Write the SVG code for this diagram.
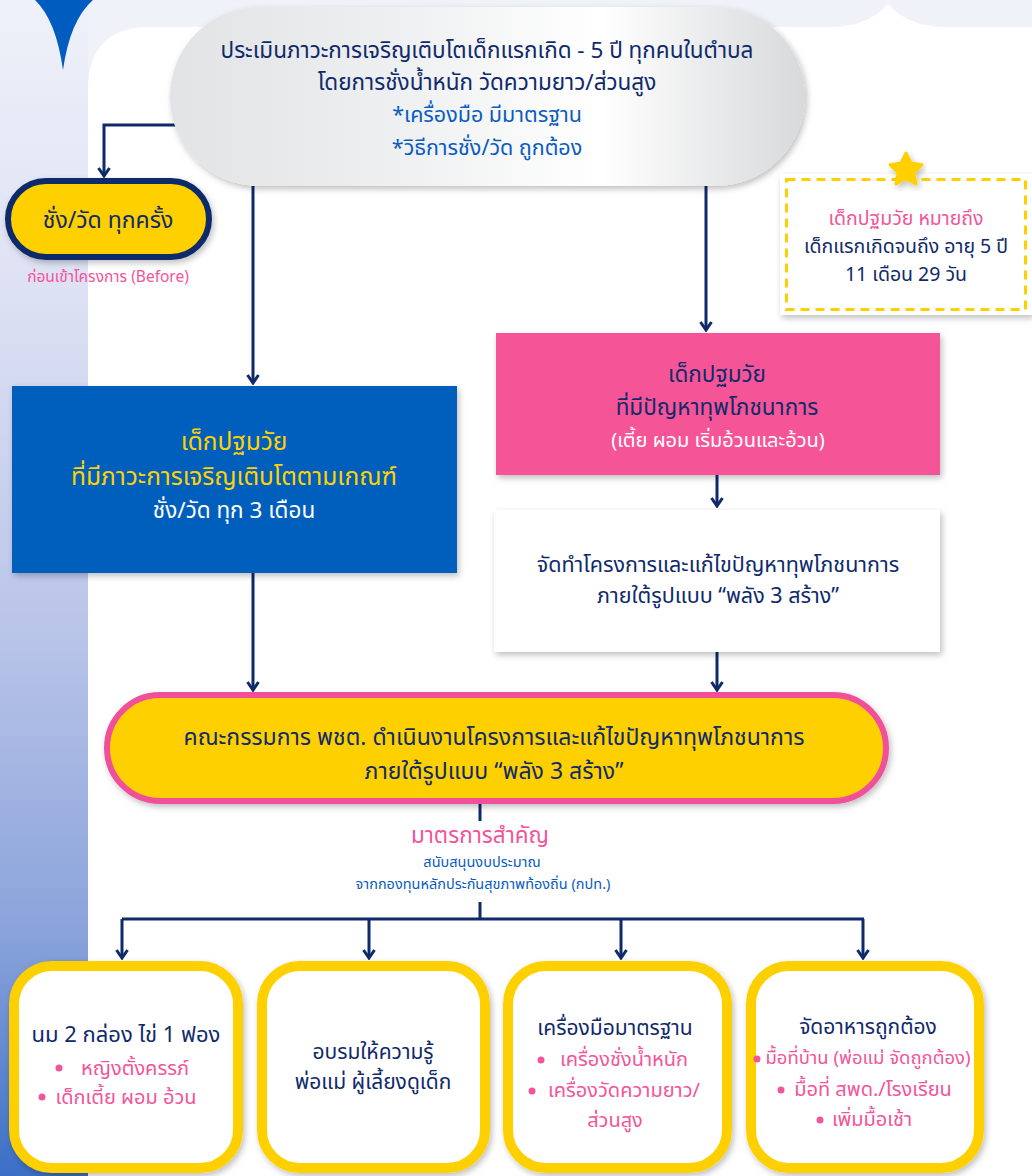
<svg xmlns="http://www.w3.org/2000/svg" width="1032" height="1176" viewBox="0 0 1032 1176">
<defs>
<style>
text{font-family:"Noto Sans Thai","Noto Sans Thai UI","Loma","Garuda","Sarabun","Kinnari","DejaVu Sans","Noto Sans",sans-serif;text-anchor:middle}
.navy{fill:#102a6b}
.blue{fill:#0b5cc0}
.pink{fill:#f2559a}
.yel{fill:#ffd200}
.wht{fill:#ffffff}
.conn{fill:none;stroke:#0f2a6a;stroke-width:3}
.bx{fill:#ffffff;stroke:#ffd000;stroke-width:10}
.bul{fill:#f2559a}
</style>
<linearGradient id="strip" x1="0" y1="0" x2="0" y2="1">
<stop offset="0" stop-color="#eff1f9"/>
<stop offset="0.25" stop-color="#dde1f3"/>
<stop offset="0.55" stop-color="#b7c3e8"/>
<stop offset="0.8" stop-color="#88a2da"/>
<stop offset="1" stop-color="#3a6fc6"/>
</linearGradient>
<linearGradient id="pillg" x1="0" y1="0" x2="1" y2="0">
<stop offset="0" stop-color="#e2e3e5"/>
<stop offset="0.35" stop-color="#eeeff0"/>
<stop offset="0.68" stop-color="#ffffff"/>
<stop offset="1" stop-color="#d8d9db"/>
</linearGradient>
<filter id="sh" x="-10%" y="-10%" width="120%" height="130%">
<feDropShadow dx="2" dy="3" stdDeviation="3" flood-color="#000" flood-opacity="0.25"/>
</filter>
<marker id="arr" viewBox="-1 -7 11 14" refX="8" refY="0" markerWidth="11" markerHeight="14" markerUnits="userSpaceOnUse" orient="auto">
<path d="M0,-5.5 L8,0 L0,5.5" fill="none" stroke="#0f2a6a" stroke-width="3" stroke-linejoin="miter"/>
</marker>
</defs>

<g id="background">
<rect x="0" y="0" width="1032" height="1176" fill="#f0f2f9"/>
<rect x="0" y="0" width="88" height="1176" fill="url(#strip)"/>
<path d="M88,1176 V90 Q88,27 150,27 H830 Q868,27 888,4 Q908,27 946,27 H1032 V1176 Z" fill="#ffffff"/>
<path d="M35,0 H93 Q70,20 63,70 Q56,20 35,0 Z" fill="#005cbf"/>
</g>

<g id="connectors">
<path class="conn" d="M176,125 H104 V176" marker-end="url(#arr)"/>
<path class="conn" d="M253,186 V383" marker-end="url(#arr)"/>
<path class="conn" d="M706,186 V330" marker-end="url(#arr)"/>
<path class="conn" d="M717,475 V506" marker-end="url(#arr)"/>
<path class="conn" d="M253,573 V690" marker-end="url(#arr)"/>
<path class="conn" d="M717,652 V690" marker-end="url(#arr)"/>
<path class="conn" d="M480,803 V821"/>
<path class="conn" d="M480,902 V919"/>
<path class="conn" d="M122,919 H864"/>
<path class="conn" d="M122,919 V958" marker-end="url(#arr)"/>
<path class="conn" d="M369,919 V958" marker-end="url(#arr)"/>
<path class="conn" d="M621,919 V958" marker-end="url(#arr)"/>
<path class="conn" d="M863,919 V958" marker-end="url(#arr)"/>
</g>

<g id="node-assess">
<rect x="170" y="7" width="635" height="179" rx="89.5" fill="url(#pillg)" filter="url(#sh)"/>
<text x="487" y="58" font-size="22.5" class="navy">ประเมินภาวะการเจริญเติบโตเด็กแรกเกิด - 5 ปี ทุกคนในตำบล</text>
<text x="487" y="90" font-size="22.5" class="navy">โดยการชั่งน้ำหนัก วัดความยาว/ส่วนสูง</text>
<text x="487" y="122" font-size="21.5" class="blue">*เครื่องมือ มีมาตรฐาน</text>
<text x="487" y="155" font-size="21.5" class="blue">*วิธีการชั่ง/วัด ถูกต้อง</text>
</g>

<g id="node-every-time">
<rect x="8" y="181" width="201" height="76" rx="38" fill="#ffd000" stroke="#0f2a6a" stroke-width="6" filter="url(#sh)"/>
<text x="108" y="228" font-size="23" class="navy">ชั่ง/วัด ทุกครั้ง</text>
<text x="108" y="282" font-size="15.5" class="pink">ก่อนเข้าโครงการ (Before)</text>
</g>

<g id="node-definition">
<rect x="780" y="174" width="252" height="141" fill="#ffffff" filter="url(#sh)"/>
<rect x="786.5" y="179.5" width="239" height="130" fill="none" stroke="#ffd000" stroke-width="3" stroke-dasharray="9,6"/>
<path d="M906,153 L911,163 L922,164.8 L914,172.7 L916,184 L906,178.7 L896,184 L898,172.7 L890,164.8 L901,163 Z" fill="#ffd000" stroke="#ffd000" stroke-width="3" stroke-linejoin="round" filter="url(#sh)"/>
<text x="906" y="225" font-size="19.5" class="pink">เด็กปฐมวัย หมายถึง</text>
<text x="906" y="253" font-size="19.5" class="navy">เด็กแรกเกิดจนถึง อายุ 5 ปี</text>
<text x="906" y="281" font-size="19.5" class="navy">11 เดือน 29 วัน</text>
</g>

<g id="node-normal">
<rect x="12" y="386" width="445" height="187" fill="#005ebd" filter="url(#sh)"/>
<text x="234" y="450" font-size="24.5" class="yel">เด็กปฐมวัย</text>
<text x="234" y="485" font-size="24.5" class="yel">ที่มีภาวะการเจริญเติบโตตามเกณฑ์</text>
<text x="234" y="518" font-size="22.5" class="wht">ชั่ง/วัด ทุก 3 เดือน</text>
</g>

<g id="node-problem">
<rect x="496" y="333" width="444" height="142" fill="#f55497" filter="url(#sh)"/>
<text x="717" y="382" font-size="22.5" class="navy">เด็กปฐมวัย</text>
<text x="717" y="415" font-size="22.5" class="navy">ที่มีปัญหาทุพโภชนาการ</text>
<text x="718" y="447" font-size="20" class="wht">(เตี้ย ผอม เริ่มอ้วนและอ้วน)</text>
</g>

<g id="node-project">
<rect x="494" y="510" width="446" height="142" fill="#ffffff" filter="url(#sh)"/>
<text x="718" y="572" font-size="21.5" class="navy">จัดทำโครงการและแก้ไขปัญหาทุพโภชนาการ</text>
<text x="718" y="603" font-size="21.5" class="navy">ภายใต้รูปแบบ “พลัง 3 สร้าง”</text>
</g>

<g id="node-committee">
<rect x="107" y="695" width="779" height="106" rx="53" fill="#ffd000" stroke="#f0509a" stroke-width="6" filter="url(#sh)"/>
<text x="494" y="745" font-size="23" class="navy">คณะกรรมการ พชต. ดำเนินงานโครงการและแก้ไขปัญหาทุพโภชนาการ</text>
<text x="494" y="779" font-size="23" class="navy">ภายใต้รูปแบบ “พลัง 3 สร้าง”</text>
</g>

<g id="label-measures">
<text x="480" y="843" font-size="22.5" class="pink">มาตรการสำคัญ</text>
<text x="482" y="867" font-size="14.5" class="blue">สนับสนุนงบประมาณ</text>
<text x="483" y="889" font-size="14.5" class="blue">จากกองทุนหลักประกันสุขภาพท้องถิ่น (กปท.)</text>
</g>

<g id="node-milk-egg">
<rect class="bx" x="14" y="966" width="224" height="202" rx="38" filter="url(#sh)"/>
<text x="126" y="1042" font-size="22" class="navy">นม 2 กล่อง ไข่ 1 ฟอง</text>
<circle class="bul" cx="59" cy="1068" r="3.5"/>
<text x="135" y="1075" font-size="20" class="pink">หญิงตั้งครรภ์</text>
<circle class="bul" cx="42" cy="1097" r="3.5"/>
<text x="126" y="1104" font-size="20" class="pink">เด็กเตี้ย ผอม อ้วน</text>
</g>

<g id="node-training">
<rect class="bx" x="262" y="966" width="223" height="202" rx="38" filter="url(#sh)"/>
<text x="373" y="1059" font-size="21" class="navy">อบรมให้ความรู้</text>
<text x="373" y="1089" font-size="21" class="navy">พ่อแม่ ผู้เลี้ยงดูเด็ก</text>
</g>

<g id="node-tools">
<rect class="bx" x="508" y="966" width="219" height="202" rx="38" filter="url(#sh)"/>
<text x="615" y="1035" font-size="21" class="navy">เครื่องมือมาตรฐาน</text>
<circle class="bul" cx="541" cy="1060" r="3.5"/>
<text x="624" y="1066" font-size="20" class="pink">เครื่องชั่งน้ำหนัก</text>
<circle class="bul" cx="532" cy="1091" r="3.5"/>
<text x="624" y="1097" font-size="20" class="pink">เครื่องวัดความยาว/</text>
<text x="615" y="1127" font-size="20" class="pink">ส่วนสูง</text>
</g>

<g id="node-food">
<rect class="bx" x="751" y="966" width="228" height="202" rx="38" filter="url(#sh)"/>
<text x="868" y="1034" font-size="21" class="navy">จัดอาหารถูกต้อง</text>
<circle class="bul" cx="757" cy="1059" r="3.5"/>
<text x="868" y="1064" font-size="18.5" class="pink">มื้อที่บ้าน (พ่อแม่ จัดถูกต้อง)</text>
<circle class="bul" cx="781" cy="1090" r="3.5"/>
<text x="873" y="1096" font-size="20" class="pink">มื้อที่ สพด./โรงเรียน</text>
<circle class="bul" cx="820" cy="1120" r="3.5"/>
<text x="872" y="1126" font-size="20" class="pink">เพิ่มมื้อเช้า</text>
</g>
</svg>
